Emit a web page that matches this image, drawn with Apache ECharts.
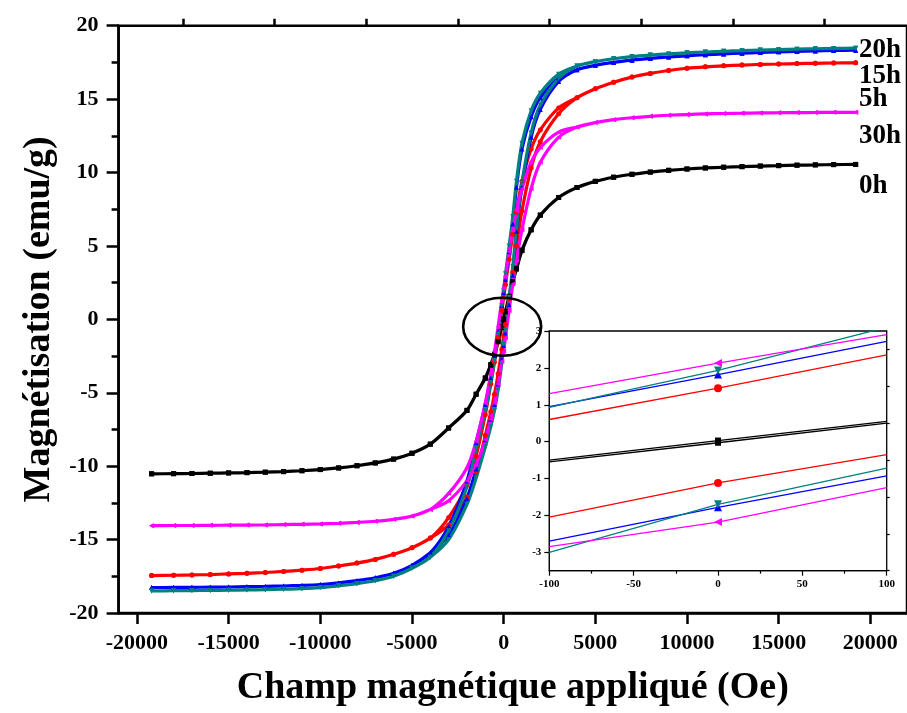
<!DOCTYPE html>
<html>
<head>
<meta charset="utf-8">
<script src="https://cdn.jsdelivr.net/npm/echarts@6/dist/echarts.min.js"></script>
<style>
  html, body { margin: 0; padding: 0; background: #ffffff; }
  #chart { width: 907px; height: 713px; }
</style>
</head>
<body>
<div id="chart"></div>
<script>
// Applied field grids (Oe): negative tail, central region (both branches), positive tail
const fieldNeg = [-19200, -18000, -17000, -16000, -15000, -14000, -13000, -12000, -11000, -10000, -9000, -8000, -7000, -6000, -5000, -4000];
const fieldCore = [-3000, -2000, -1500, -1000, -700, -500, -300, -100, 0, 100, 300, 500, 700, 1000, 1500, 2000, 3000];
const fieldPos = [4000, 5000, 6000, 7000, 8000, 9000, 10000, 11000, 12000, 13000, 14000, 15000, 16000, 17000, 18000, 19200];

// Magnetisation (emu/g) — milling time 0h
const m0hNeg = [-10.52, -10.51, -10.5, -10.48, -10.46, -10.44, -10.41, -10.37, -10.31, -10.23, -10.12, -9.97, -9.78, -9.52, -9.12, -8.5];
const m0hAsc = [-7.4, -6.2, -5.1, -4.02, -3.13, -2.43, -1.53, -0.55, -0.03, 0.5, 1.52, 2.52, 3.42, 4.68, 6.1, 7.1, 8.3];
const m0hDesc = [-7.4, -6.2, -5.1, -3.98, -3.07, -2.37, -1.47, -0.5, 0.03, 0.55, 1.58, 2.58, 3.48, 4.72, 6.1, 7.1, 8.3];
const m0hPos = [8.98, 9.4, 9.68, 9.88, 10.03, 10.15, 10.24, 10.31, 10.36, 10.4, 10.44, 10.47, 10.5, 10.52, 10.54, 10.55];

// 5h
const m5hNeg = [-14.05, -14.04, -14.04, -14.03, -14.02, -14.01, -14.0, -13.98, -13.96, -13.93, -13.89, -13.83, -13.75, -13.62, -13.4, -12.95];
const m5hAsc = [-12.35, -11.0, -9.9, -8.2, -6.8, -5.7, -4.4, -2.85, -2.18, -1.25, 0.6, 2.4, 4.0, 6.1, 8.9, 10.7, 12.4];
const m5hDesc = [-11.85, -10.1, -8.3, -5.7, -3.7, -2.2, -0.5, 1.3, 2.13, 2.9, 4.6, 6.1, 7.4, 8.9, 10.7, 11.7, 12.75];
const m5hPos = [13.1, 13.4, 13.6, 13.73, 13.83, 13.9, 13.95, 13.99, 14.02, 14.04, 14.06, 14.07, 14.08, 14.09, 14.1, 14.1];

// 15h
const m15hNeg = [-17.45, -17.43, -17.41, -17.38, -17.34, -17.3, -17.24, -17.17, -17.08, -16.97, -16.8, -16.6, -16.35, -16.0, -15.55, -14.9];
const m15hAsc = [-14.0, -12.1, -10.4, -7.9, -6.3, -5.1, -3.7, -2.05, -1.12, -0.35, 1.4, 3.2, 5.0, 7.4, 10.3, 12.1, 14.0];
const m15hDesc = [-13.5, -11.3, -9.3, -6.5, -4.4, -2.9, -1.2, 0.6, 1.45, 2.35, 4.1, 5.8, 7.3, 9.4, 11.6, 12.9, 14.4];
const m15hPos = [15.1, 15.7, 16.15, 16.5, 16.75, 16.95, 17.1, 17.2, 17.27, 17.32, 17.36, 17.39, 17.42, 17.44, 17.46, 17.47];

// 20h
const m20hNeg = [-18.27, -18.26, -18.25, -18.24, -18.23, -18.21, -18.19, -18.16, -18.12, -18.06, -17.95, -17.8, -17.6, -17.3, -16.75, -15.9];
const m20hAsc = [-14.7, -12.2, -10.2, -8.2, -6.8, -5.8, -4.4, -2.7, -1.78, -0.93, 1.0, 3.0, 6.0, 9.0, 12.4, 14.3, 16.2];
const m20hDesc = [-14.1, -11.0, -8.4, -5.8, -4.0, -2.5, -0.8, 0.95, 1.82, 2.72, 4.6, 6.5, 9.0, 11.6, 13.8, 15.1, 16.45];
const m20hPos = [17.0, 17.3, 17.5, 17.65, 17.77, 17.87, 17.95, 18.02, 18.08, 18.13, 18.18, 18.22, 18.25, 18.28, 18.31, 18.33];

// 30h
const m30hNeg = [-18.5, -18.48, -18.47, -18.46, -18.45, -18.43, -18.41, -18.38, -18.34, -18.27, -18.15, -18.0, -17.8, -17.5, -16.95, -16.2];
const m30hAsc = [-15.0, -12.6, -10.8, -8.7, -7.3, -6.2, -4.8, -3.0, -1.7, -0.72, 1.5, 3.6, 6.2, 9.3, 12.7, 14.6, 16.4];
const m30hDesc = [-14.4, -11.4, -8.8, -6.2, -4.3, -2.8, -1.0, 0.93, 1.93, 3.1, 5.0, 7.0, 9.4, 12.0, 14.2, 15.4, 16.7];
const m30hPos = [17.25, 17.55, 17.75, 17.9, 18.0, 18.08, 18.15, 18.21, 18.26, 18.3, 18.34, 18.37, 18.4, 18.43, 18.45, 18.47];

// Zoom around the origin (field in Oe, magnetisation in emu/g)
const insetField = [-100, 0, 100];
const inset0hDesc = [-0.5, 0.03, 0.55], inset0hAsc = [-0.55, -0.03, 0.5];
const inset5hDesc = [1.3, 2.13, 2.9], inset5hAsc = [-2.85, -2.18, -1.25];
const inset15hDesc = [0.6, 1.45, 2.35], inset15hAsc = [-2.05, -1.12, -0.35];
const inset20hDesc = [0.95, 1.82, 2.72], inset20hAsc = [-2.7, -1.78, -0.93];
const inset30hDesc = [0.93, 1.93, 3.1], inset30hAsc = [-3.0, -1.7, -0.72];

const xMajorTicks = [-20000, -15000, -10000, -5000, 0, 5000, 10000, 15000, 20000];
const xMinorTicks = [-17500, -12500, -7500, -2500, 2500, 7500, 12500, 17500];
const insetYTicks = [-3, -2, -1, 0, 1, 2, 3];
const insetYMinor = [-3.5, -2.5, -1.5, -0.5, 0.5, 1.5, 2.5];

const sampleLabels = ['20h', '15h', '5h', '30h', '0h'];

// Full loop: ascending branch from negative saturation, then descending branch back
function hysteresisLoop(neg, asc, desc, pos) {
  const pair = (fields, vals) => fields.map((h, i) => [h, vals[i]]);
  const up = pair(fieldNeg, neg).concat(pair(fieldCore, asc), pair(fieldPos, pos));
  const down = pair(fieldPos, pos).reverse()
    .concat(pair(fieldCore, desc).reverse(), pair(fieldNeg, neg).reverse());
  return up.concat(down);
}

const FONT = '"Liberation Serif", "Times New Roman", serif';

const samples = [
  { name: '0h', color: '#000000', symbol: 'rect', rotate: 0, data: [m0hNeg, m0hAsc, m0hDesc, m0hPos], inset: [inset0hDesc, inset0hAsc] },
  { name: '15h', color: '#ff0000', symbol: 'circle', rotate: 0, data: [m15hNeg, m15hAsc, m15hDesc, m15hPos], inset: [inset15hDesc, inset15hAsc] },
  { name: '20h', color: '#0000ff', symbol: 'triangle', rotate: 0, data: [m20hNeg, m20hAsc, m20hDesc, m20hPos], inset: [inset20hDesc, inset20hAsc] },
  { name: '30h', color: '#008080', symbol: 'triangle', rotate: 180, data: [m30hNeg, m30hAsc, m30hDesc, m30hPos], inset: [inset30hDesc, inset30hAsc] },
  { name: '5h', color: '#ff00ff', symbol: 'triangle', rotate: 90, data: [m5hNeg, m5hAsc, m5hDesc, m5hPos], inset: [inset5hDesc, inset5hAsc] }
];

const series = [];
samples.forEach(s => {
  series.push({
    name: s.name, type: 'line', xAxisIndex: 0, yAxisIndex: 0,
    data: hysteresisLoop(...s.data),
    smooth: 0.3,
    showSymbol: true, showAllSymbol: true,
    symbol: s.symbol, symbolRotate: s.rotate, symbolSize: 5,
    itemStyle: { color: s.color },
    lineStyle: { color: s.color, width: 3.2 },
    animation: false, z: 3
  });
});
samples.forEach(s => {
  s.inset.forEach(branch => {
    series.push({
      name: s.name + ' zoom', type: 'line', xAxisIndex: 2, yAxisIndex: 1,
      data: insetField.map((h, i) => [h, branch[i]]),
      showAllSymbol: true,
      symbol: (v) => (v[0] === 0 ? s.symbol : 'none'),
      symbolRotate: s.rotate, symbolSize: s.symbol === 'rect' ? 6 : 8,
      itemStyle: { color: s.color },
      lineStyle: { color: s.color, width: 1.3 },
      animation: false, z: 6
    });
  });
});

const plainNumber = (v) => String(v);

const chart = echarts.init(document.getElementById('chart'), null, { renderer: 'canvas' });

chart.setOption({
  animation: false,
  backgroundColor: '#ffffff',
  grid: [
    { left: 118.6, top: 25.7, width: 789.8, height: 587.3, show: true, borderColor: '#000', borderWidth: 2.5, backgroundColor: 'transparent' },
    { left: 549.3, top: 331, width: 337.4, height: 239.7, show: true, borderColor: '#000', borderWidth: 1.3, backgroundColor: '#ffffff', z: 5 }
  ],
  xAxis: [
    {
      type: 'value', gridIndex: 0, min: -21000, max: 22000,
      name: 'Champ magnétique appliqué (Oe)', nameLocation: 'middle', nameGap: 56,
      nameTextStyle: { fontFamily: FONT, fontWeight: 'bold', fontSize: 38, color: '#000' },
      axisLine: { show: true, onZero: false, lineStyle: { color: '#000', width: 2.5 } },
      axisTick: { show: true, inside: false, length: 11, lineStyle: { color: '#000', width: 2.5 }, customValues: xMajorTicks },
      axisLabel: { show: true, margin: 19, fontFamily: FONT, fontWeight: 'bold', fontSize: 22, color: '#000', customValues: xMajorTicks, formatter: plainNumber },
      splitLine: { show: false }
    },
    {
      type: 'value', gridIndex: 0, min: -21000, max: 22000,
      axisLine: { show: false, onZero: false },
      axisTick: { show: true, inside: false, length: 7, lineStyle: { color: '#000', width: 2.5 }, customValues: xMinorTicks },
      axisLabel: { show: false },
      splitLine: { show: false }
    },
    {
      type: 'value', gridIndex: 1, min: -100, max: 100, interval: 50,
      axisLine: { show: true, onZero: false, lineStyle: { color: '#000', width: 1.3 } },
      axisTick: { show: true, inside: false, length: 5, lineStyle: { color: '#000', width: 1.2 } },
      minorTick: { show: true, splitNumber: 2, length: 3, lineStyle: { color: '#000', width: 1.2 } },
      axisLabel: { margin: 8, fontFamily: FONT, fontWeight: 'bold', fontSize: 11, color: '#000', formatter: plainNumber },
      splitLine: { show: false }
    }
  ],
  yAxis: [
    {
      type: 'value', gridIndex: 0, min: -20, max: 20, interval: 5,
      name: 'Magnétisation (emu/g)', nameLocation: 'middle', nameGap: 60,
      nameTextStyle: { fontFamily: FONT, fontWeight: 'bold', fontSize: 38, color: '#000' },
      axisLine: { show: true, onZero: false, lineStyle: { color: '#000', width: 2.5 } },
      axisTick: { show: true, inside: false, length: 12, lineStyle: { color: '#000', width: 2.5 } },
      minorTick: { show: true, splitNumber: 2, length: 7, lineStyle: { color: '#000', width: 2.5 } },
      axisLabel: { margin: 20, fontFamily: FONT, fontWeight: 'bold', fontSize: 22, color: '#000' },
      splitLine: { show: false }
    },
    {
      type: 'value', gridIndex: 1, min: -3.5, max: 3,
      axisLine: { show: true, onZero: false, lineStyle: { color: '#000', width: 1.3 } },
      axisTick: { show: true, inside: false, length: 5, lineStyle: { color: '#000', width: 1.2 }, customValues: insetYTicks },
      axisLabel: { margin: 8, fontFamily: FONT, fontWeight: 'bold', fontSize: 11, color: '#000', customValues: insetYTicks },
      splitLine: { show: false }
    },
    {
      type: 'value', gridIndex: 1, min: -3.5, max: 3,
      axisLine: { show: false, onZero: false },
      axisTick: { show: true, inside: false, length: 3, lineStyle: { color: '#000', width: 1.2 }, customValues: insetYMinor },
      axisLabel: { show: false },
      splitLine: { show: false }
    }
  ],
  series: series
});

// Circle marking the region shown in the zoom panel, and the sample labels
const ringCenter = chart.convertToPixel({ gridIndex: 0 }, [-80, -0.5]);
const labelY = [50.5, 76, 99, 136, 186];
const graphics = [
  {
    type: 'ellipse', z: 10,
    shape: { cx: ringCenter[0], cy: ringCenter[1], rx: 39, ry: 29 },
    style: { fill: 'none', stroke: '#000', lineWidth: 2.6 }
  }
];
sampleLabels.forEach((t, i) => {
  graphics.push({
    type: 'text', z: 10, x: 859, y: labelY[i],
    style: {
      text: t, fill: '#000', font: 'bold 27px ' + FONT,
      align: 'left', verticalAlign: 'middle', textAlign: 'left', textVerticalAlign: 'middle'
    }
  });
});
chart.setOption({ graphic: graphics });
</script>
</body>
</html>
